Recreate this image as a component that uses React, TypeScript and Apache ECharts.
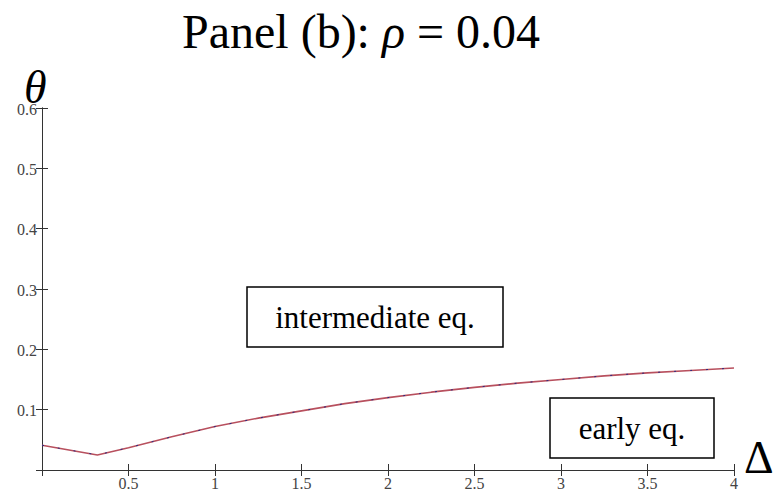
import React, { useEffect, useRef } from "react";
import * as echarts from "echarts";

const deltaValues = [0, 0.32, 0.5, 0.75, 1, 1.25, 1.5, 1.75, 2, 2.25, 2.5, 2.75, 3, 3.25, 3.5, 3.75, 4];
const thetaValues = [0.041, 0.025, 0.037, 0.055, 0.072, 0.086, 0.098, 0.11, 0.12, 0.129, 0.137, 0.144, 0.15, 0.156, 0.161, 0.165, 0.169];
const xTicks = [0.5, 1, 1.5, 2, 2.5, 3, 3.5, 4];
const xTickLabels = ["0.5", "1", "1.5", "2", "2.5", "3", "3.5", "4"];
const yTicks = [0.1, 0.2, 0.3, 0.4, 0.5, 0.6];
const yTickLabels = ["0.1", "0.2", "0.3", "0.4", "0.5", "0.6"];
const regionLabels = ["intermediate eq.", "early eq."];
const titleParts = ["Panel (b): ", "ρ", " = 0.04"];

const SERIF = "Liberation Serif";

function measure(text: string, font: string): number {
  const c = document.createElement("canvas").getContext("2d");
  if (!c) return text.length * 20;
  c.font = font;
  return c.measureText(text).width;
}

export default function App() {
  const ref = useRef<HTMLDivElement>(null);
  useEffect(() => {
    if (!ref.current) return;
    const chart = echarts.init(ref.current, null, { renderer: "svg" });
    const pts = deltaValues.map((d, i) => [d, thetaValues[i]]);
    const axisCommon = {
      axisLine: { show: true, lineStyle: { color: "#333", width: 1 } },
      axisTick: { show: true, inside: true, length: 6, lineStyle: { color: "#333" } },
      splitLine: { show: false },
      axisLabel: { show: false },
    };
    chart.setOption({
      animation: false,
      backgroundColor: "#fff",
      grid: { left: 42, right: 40, top: 108, bottom: 21, containLabel: false },
      xAxis: [
        { type: "value", min: 0, max: 4, interval: 0.5, position: "bottom", ...axisCommon },
        { type: "value", min: 0, max: 4, interval: 0.5, position: "top", ...axisCommon },
      ],
      yAxis: [
        { type: "value", min: 0, max: 0.6, interval: 0.1, position: "left", ...axisCommon },
        { type: "value", min: 0, max: 0.6, interval: 0.1, position: "right", ...axisCommon },
      ],
      series: [
        {
          type: "line",
          data: pts,
          showSymbol: false,
          lineStyle: { color: "#b8505e", width: 1.6 },
          z: 2,
        },
        {
          type: "line",
          data: pts,
          showSymbol: false,
          lineStyle: { color: "#2a2a80", width: 1, type: [2, 14] },
          z: 3,
        },
      ],
    });

    const labelFont = `16px ${SERIF}`;
    const tickGraphics: any[] = [];
    xTicks.forEach((v, i) => {
      const px = chart.convertToPixel({ xAxisIndex: 0 }, v) as number;
      const py = chart.convertToPixel({ yAxisIndex: 0 }, 0) as number;
      tickGraphics.push({
        type: "text",
        x: px,
        y: py + 5,
        style: { text: xTickLabels[i], font: labelFont, fill: "#444", align: "center", verticalAlign: "top" },
      });
    });
    yTicks.forEach((v, i) => {
      const px = chart.convertToPixel({ xAxisIndex: 0 }, 0) as number;
      const py = chart.convertToPixel({ yAxisIndex: 0 }, v) as number;
      tickGraphics.push({
        type: "text",
        x: px - 5,
        y: py + 1,
        style: { text: yTickLabels[i], font: labelFont, fill: "#444", align: "right", verticalAlign: "middle" },
      });
    });

    const titleFont = `48px ${SERIF}`;
    const titleItalic = `italic 48px ${SERIF}`;
    const w0 = measure(titleParts[0], titleFont);
    const w1 = measure(titleParts[1], titleItalic);
    const tx = 182;
    const ty = 7;

    chart.setOption({
      graphic: [
        ...tickGraphics,
        {
          type: "text",
          x: tx,
          y: ty,
          style: { text: titleParts[0], font: titleFont, fill: "#000", verticalAlign: "top" },
        },
        {
          type: "text",
          x: tx + w0,
          y: ty,
          style: { text: titleParts[1], font: titleItalic, fill: "#000", verticalAlign: "top" },
        },
        {
          type: "text",
          x: tx + w0 + w1,
          y: ty,
          style: { text: titleParts[2], font: titleFont, fill: "#000", verticalAlign: "top" },
        },
        {
          type: "text",
          left: 24,
          top: 64,
          style: { text: "θ", font: `italic 46px ${SERIF}`, fill: "#000" },
        },
        {
          type: "text",
          left: 744,
          top: 434,
          style: { text: "Δ", font: `46px ${SERIF}`, fill: "#000" },
        },
        {
          type: "rect",
          shape: { x: 247, y: 287, width: 256, height: 60 },
          style: { fill: "#fff", stroke: "#000", lineWidth: 1.5 },
          z: 10,
        },
        {
          type: "text",
          x: 375,
          y: 317,
          style: {
            text: regionLabels[0],
            font: `31px ${SERIF}`,
            fill: "#000",
            align: "center",
            verticalAlign: "middle",
          },
          z: 11,
        },
        {
          type: "rect",
          shape: { x: 550, y: 398, width: 164, height: 60 },
          style: { fill: "#fff", stroke: "#000", lineWidth: 1.5 },
          z: 10,
        },
        {
          type: "text",
          x: 632,
          y: 428,
          style: {
            text: regionLabels[1],
            font: `31px ${SERIF}`,
            fill: "#000",
            align: "center",
            verticalAlign: "middle",
          },
          z: 11,
        },
      ],
    });
    return () => chart.dispose();
  }, []);
  return <div ref={ref} style={{ width: 774, height: 491, position: "absolute", left: 0, top: 0 }} />;
}
